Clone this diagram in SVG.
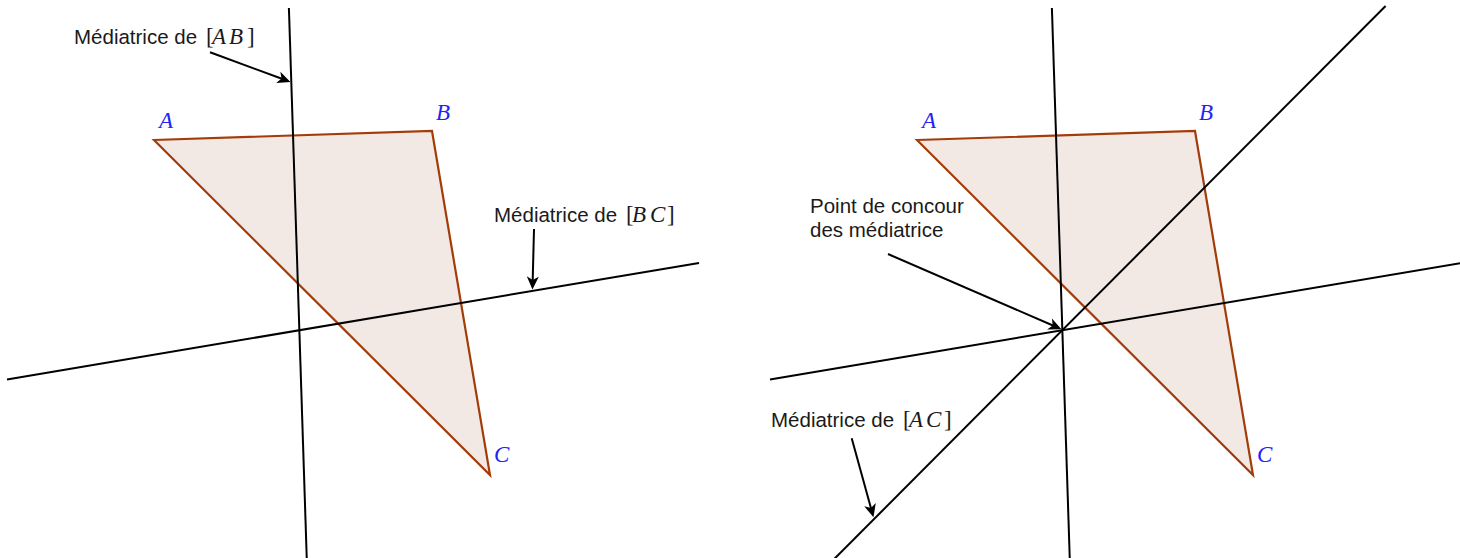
<svg xmlns="http://www.w3.org/2000/svg" width="1460" height="558" viewBox="0 0 1460 558">
<style>
.tri{fill:#f3e9e4;stroke:#a43c0a;stroke-width:2.2;stroke-linejoin:miter}
.ln{stroke:#000;stroke-width:2;fill:none}
.arr{stroke:#000;stroke-width:2;fill:none;marker-end:url(#ah)}
.lbl{font-family:"Liberation Sans",Arial,sans-serif;font-size:20.5px;fill:#1a1a1a}
.m{font-family:"Liberation Serif","Times New Roman",serif;font-size:23px;fill:#1a1a1a}
.mi{font-family:"Liberation Serif","Times New Roman",serif;font-size:23px;font-style:italic;fill:#1a1a1a}
.pt{font-family:"Liberation Serif","Times New Roman",serif;font-size:23px;font-style:italic;fill:#2323f5}
</style>
<defs>
<marker id="ah" markerUnits="userSpaceOnUse" viewBox="-2 -7 16 14" markerWidth="16" markerHeight="14" refX="6" refY="0" orient="auto" overflow="visible">
<path d="M11.5,0 L-1.5,-6 L2,0 L-1.5,6 Z" fill="#000"/>
</marker>
</defs>
<g id="triangle-left"><polygon class="tri" points="154,140 432,131 490,475"/></g>
<g id="triangle-right"><polygon class="tri" points="917,140 1195,131 1253,475"/></g>
<g id="connectors">
<line class="ln" x1="288.9" y1="8" x2="306.8" y2="560"/>
<line class="ln" x1="7" y1="379.5" x2="699" y2="262.9"/>
<line class="ln" x1="1051.9" y1="8" x2="1069.8" y2="560"/>
<line class="ln" x1="770" y1="379.5" x2="1462" y2="262.9"/>
<line class="ln" x1="1385.6" y1="6" x2="833.2" y2="560"/>
<line class="arr" x1="210" y1="52.3" x2="285.3" y2="80"/>
<line class="arr" x1="534" y1="229" x2="532.6" y2="284"/>
<line class="arr" x1="888" y1="254" x2="1056.4" y2="327"/>
<line class="arr" x1="851.7" y1="438.3" x2="872" y2="511.9"/>
</g>
<g id="pt-A-left"><text class="pt" x="159" y="128">A</text></g>
<g id="pt-B-left"><text class="pt" x="436" y="120">B</text></g>
<g id="pt-C-left"><text class="pt" x="494" y="462">C</text></g>
<g id="pt-A-right"><text class="pt" x="922" y="128">A</text></g>
<g id="pt-B-right"><text class="pt" x="1199" y="120">B</text></g>
<g id="pt-C-right"><text class="pt" x="1257" y="462">C</text></g>
<g id="label-AB"><text class="lbl" x="74" y="44">Médiatrice de <tspan class="m" x="206">[</tspan><tspan class="mi" x="212">A</tspan><tspan class="mi" x="229">B</tspan><tspan class="m" x="247">]</tspan></text></g>
<g id="label-BC"><text class="lbl" x="494" y="222">Médiatrice de <tspan class="m" x="626">[</tspan><tspan class="mi" x="632">B</tspan><tspan class="mi" x="650">C</tspan><tspan class="m" x="667">]</tspan></text></g>
<g id="label-AC"><text class="lbl" x="771" y="427">Médiatrice de <tspan class="m" x="903">[</tspan><tspan class="mi" x="909">A</tspan><tspan class="mi" x="926">C</tspan><tspan class="m" x="944">]</tspan></text></g>
<g id="label-concours"><text class="lbl" x="810" y="213">Point de concour</text><text class="lbl" x="810" y="237">des médiatrice</text></g>
</svg>
